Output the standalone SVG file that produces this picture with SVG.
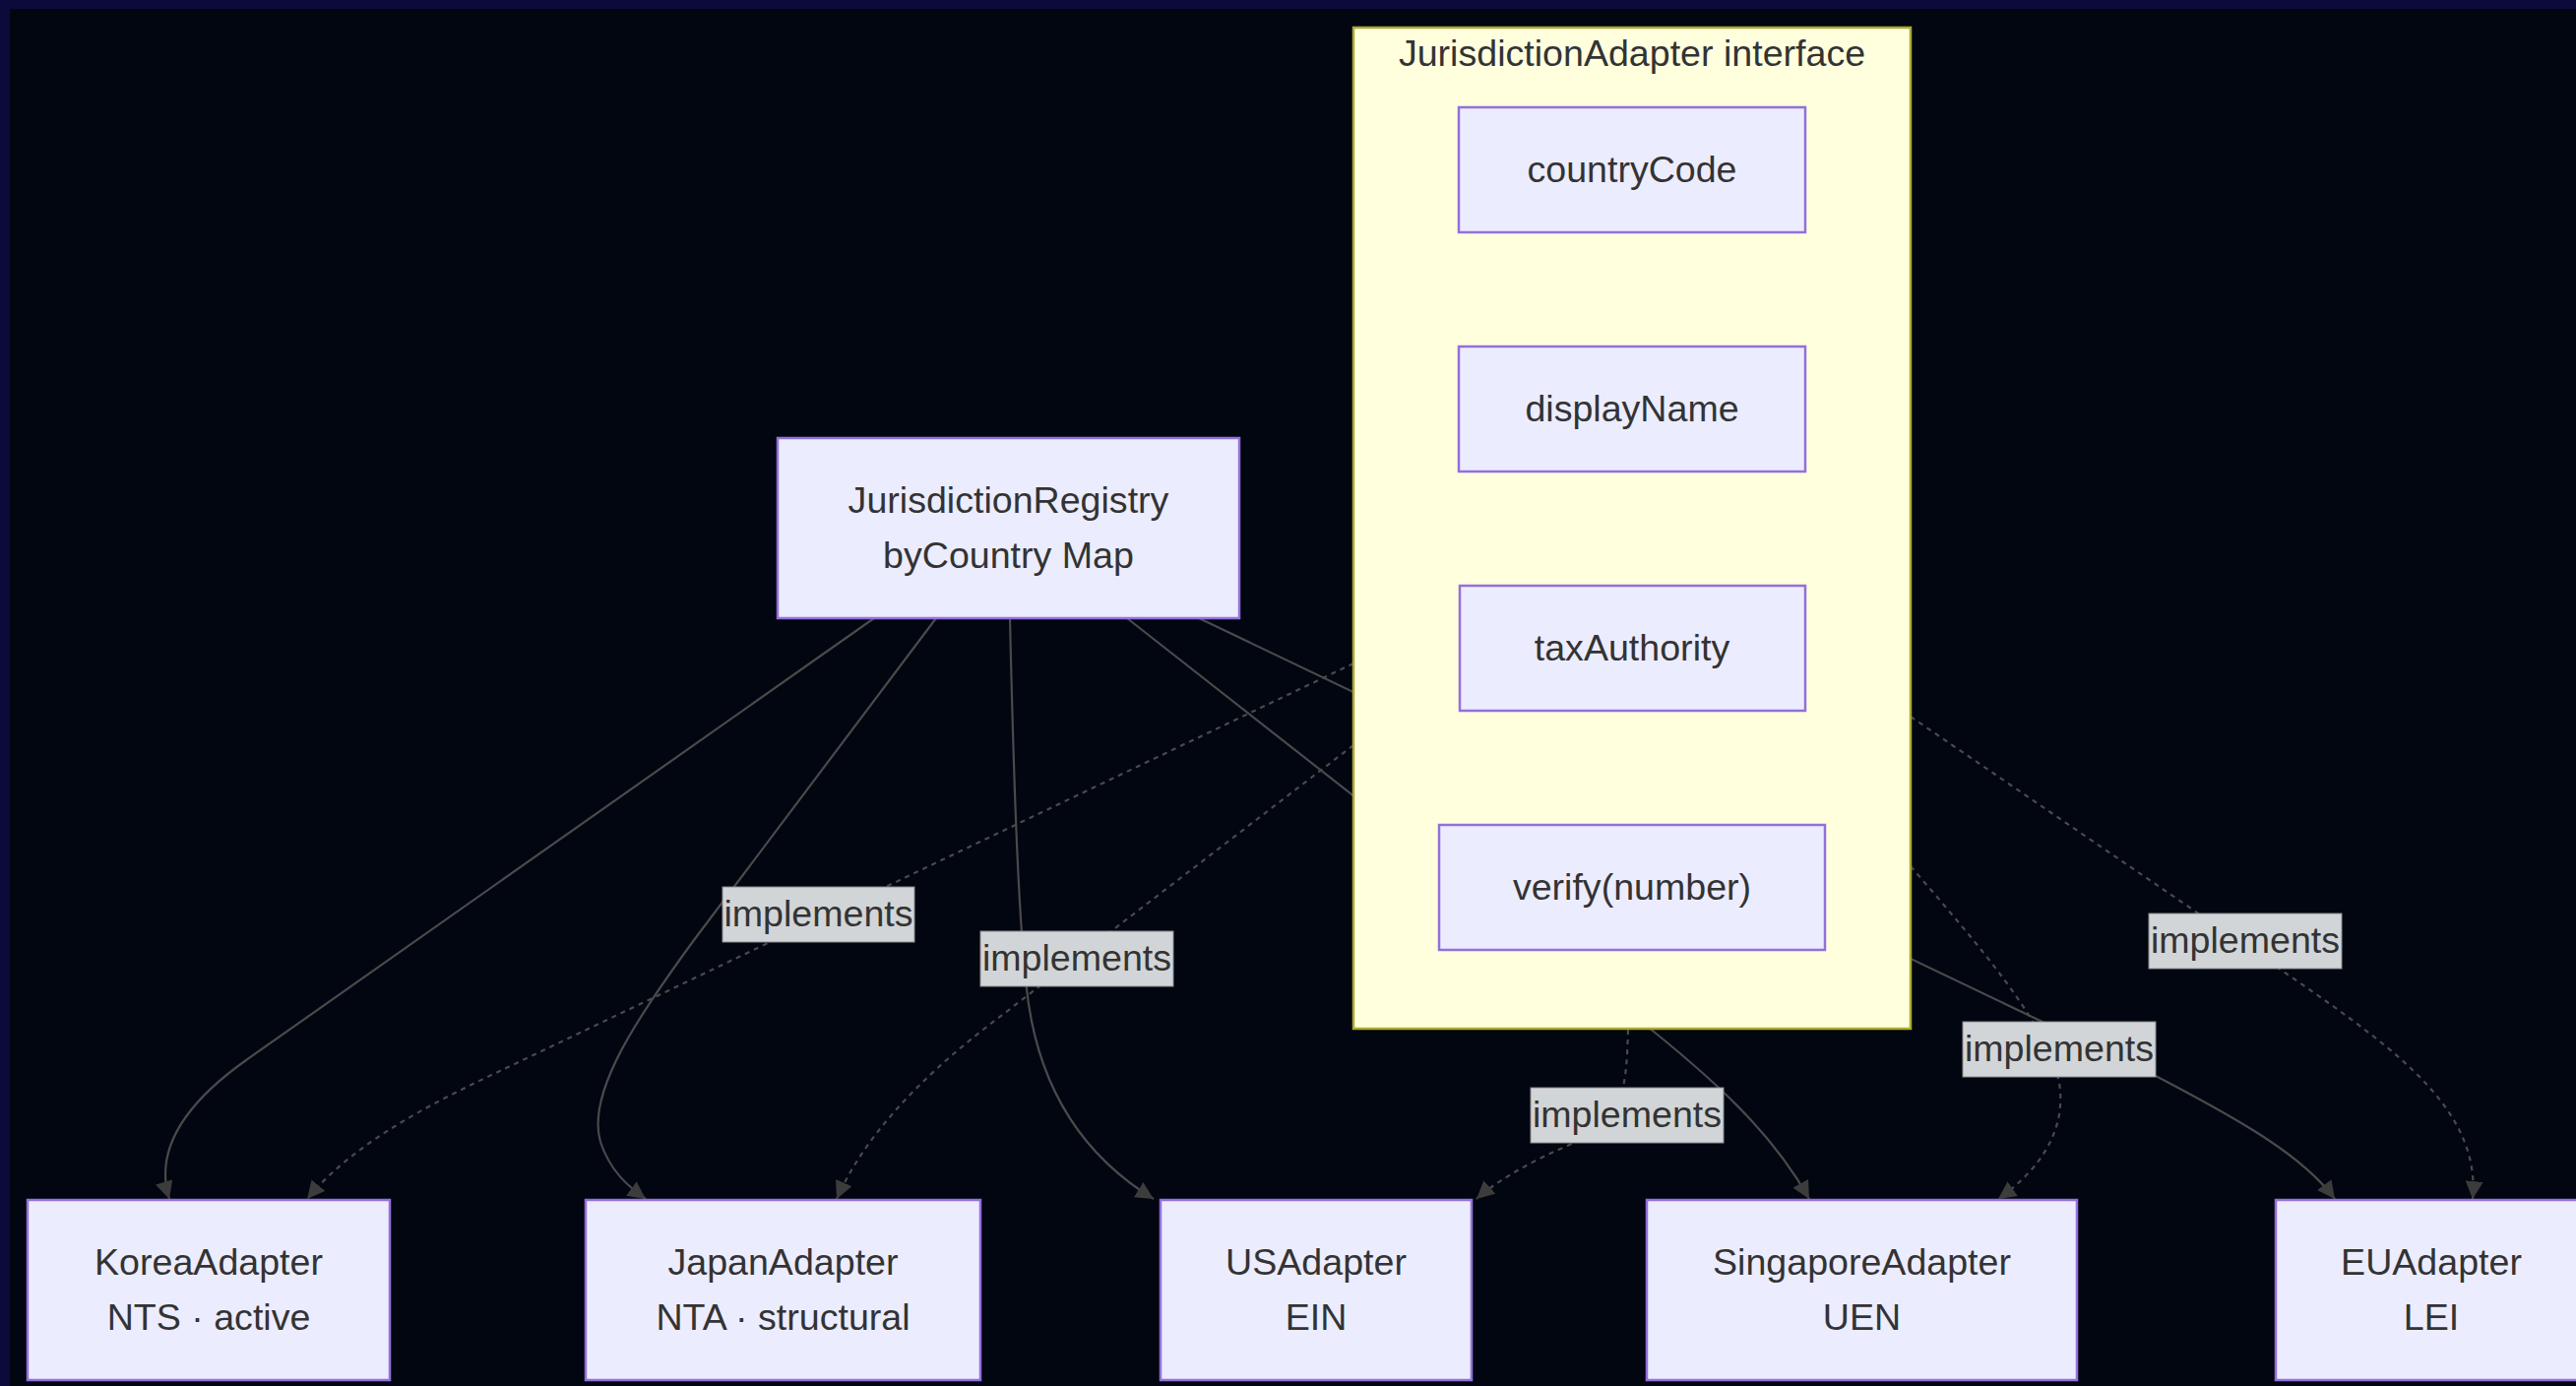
<svg xmlns="http://www.w3.org/2000/svg" width="2617" height="1408" viewBox="0 0 2617 1408">
<defs>
<style>
.node rect{fill:#ECECFF;stroke:#9370DB;stroke-width:2.5}
.cluster rect{fill:#FFFFDE;stroke:#AAAA33;stroke-width:2.5}
text{font-family:"Liberation Sans",Arial,sans-serif;font-size:37.6px;fill:#333333;text-anchor:middle}
.edge{fill:none;stroke:#4a4a4a;stroke-width:2.2}
.dotted{stroke-dasharray:5 5}
.elabel rect{fill:#D2D5D7;stroke:#8a8c90;stroke-width:1}
</style>
<marker id="arrow" viewBox="0 0 10 10" refX="10" refY="5" markerUnits="userSpaceOnUse" markerWidth="18" markerHeight="18" orient="auto">
<path d="M0,0 L10,5 L0,10 z" fill="#3c3c3c"/>
</marker>
</defs>
<rect x="0" y="0" width="2617" height="1408" fill="#0c0a3b"/>
<rect x="10" y="9" width="2607" height="1399" fill="#020611"/>

<g id="connectors">
<path class="edge" marker-end="url(#arrow)" d="M888,628 L250,1077 Q150,1148 172,1218"/>
<path class="edge" marker-end="url(#arrow)" d="M951,628 L705,955 C650,1030 595,1110 610,1160 C620,1190 638,1205 656,1218"/>
<path class="edge" marker-end="url(#arrow)" d="M1026,628 C1030,800 1035,950 1045,1020 C1060,1120 1110,1180 1172,1218"/>
<path class="edge" marker-end="url(#arrow)" d="M1145,628 L1660,1032 C1740,1095 1800,1150 1838,1218"/>
<path class="edge" marker-end="url(#arrow)" d="M1218,628 L2190,1093 C2280,1140 2340,1175 2372,1218"/>
<path class="edge dotted" marker-end="url(#arrow)" d="M1375,674 L510,1087 C440,1120 360,1160 312,1218"/>
<path class="edge dotted" marker-end="url(#arrow)" d="M1375,757 L1000,1045 C940,1092 880,1150 850,1218"/>
<path class="edge dotted" marker-end="url(#arrow)" d="M1654,1046 C1652,1110 1650,1140 1590,1165 C1555,1180 1520,1200 1500,1218"/>
<path class="edge dotted" marker-end="url(#arrow)" d="M1941,880 C2010,960 2080,1040 2092,1100 C2100,1150 2070,1190 2030,1218"/>
<path class="edge dotted" marker-end="url(#arrow)" d="M1941,728 L2330,994 C2440,1070 2520,1130 2512,1218"/>
</g>

<g id="JurisdictionAdapter" class="cluster">
<rect x="1375" y="28" width="566" height="1017"/>
<text x="1658" y="67">JurisdictionAdapter interface</text>
</g>

<g id="countryCode" class="node">
<rect x="1482" y="109" width="352" height="127"/>
<text x="1658" y="184.5">countryCode</text>
</g>
<g id="displayName" class="node">
<rect x="1482" y="352" width="352" height="127"/>
<text x="1658" y="427.5">displayName</text>
</g>
<g id="taxAuthority" class="node">
<rect x="1483" y="595" width="351" height="127"/>
<text x="1658" y="670.5">taxAuthority</text>
</g>
<g id="verify" class="node">
<rect x="1462" y="838" width="392" height="127"/>
<text x="1658" y="913.5">verify(number)</text>
</g>

<g id="JurisdictionRegistry" class="node">
<rect x="790" y="445" width="469" height="183"/>
<text x="1024.5" y="520.5">JurisdictionRegistry</text>
<text x="1024.5" y="576.5">byCountry Map</text>
</g>

<g id="KoreaAdapter" class="node">
<rect x="28" y="1219" width="368" height="183"/>
<text x="212" y="1294.5">KoreaAdapter</text>
<text x="212" y="1350.5">NTS · active</text>
</g>
<g id="JapanAdapter" class="node">
<rect x="595" y="1219" width="401" height="183"/>
<text x="795.5" y="1294.5">JapanAdapter</text>
<text x="795.5" y="1350.5">NTA · structural</text>
</g>
<g id="USAdapter" class="node">
<rect x="1179" y="1219" width="316" height="183"/>
<text x="1337" y="1294.5">USAdapter</text>
<text x="1337" y="1350.5">EIN</text>
</g>
<g id="SingaporeAdapter" class="node">
<rect x="1673" y="1219" width="437" height="183"/>
<text x="1891.5" y="1294.5">SingaporeAdapter</text>
<text x="1891.5" y="1350.5">UEN</text>
</g>
<g id="EUAdapter" class="node">
<rect x="2312" y="1219" width="316" height="183"/>
<text x="2470" y="1294.5">EUAdapter</text>
<text x="2470" y="1350.5">LEI</text>
</g>

<g id="edge-labels" class="elabel">
<rect x="734" y="901" width="195" height="56"/>
<text x="831.5" y="941">implements</text>
<rect x="996" y="946" width="196" height="56"/>
<text x="1094" y="986">implements</text>
<rect x="1555" y="1105" width="196" height="56"/>
<text x="1653" y="1145">implements</text>
<rect x="1994" y="1038" width="196" height="56"/>
<text x="2092" y="1078">implements</text>
<rect x="2183" y="928" width="196" height="56"/>
<text x="2281" y="968">implements</text>
</g>
</svg>
